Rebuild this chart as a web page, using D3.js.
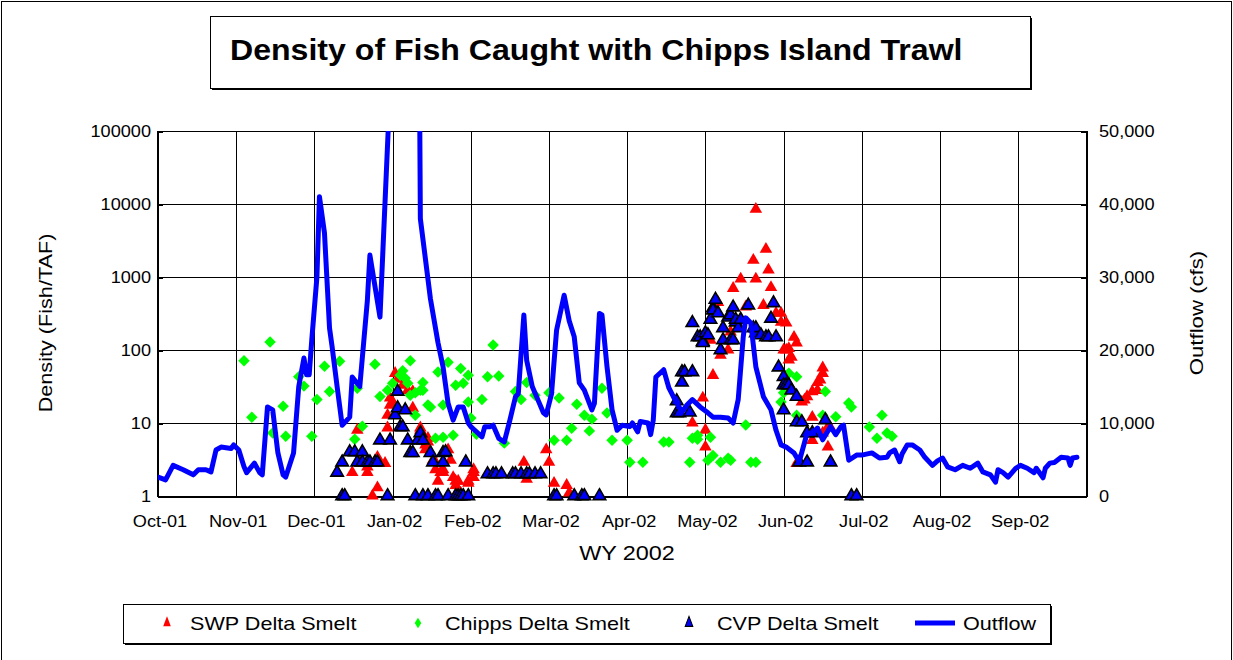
<!DOCTYPE html>
<html>
<head>
<meta charset="utf-8">
<script src="https://cdn.jsdelivr.net/npm/d3@7"></script>
<style>
  body { margin: 0; background: #fff; }
  svg { display: block; }
  text { font-family: "Liberation Sans", Arial, Helvetica, sans-serif; fill: #000; }
</style>
</head>
<body>
<svg id="chart" width="1233" height="660"></svg>
<script>
// ---- Data ---------------------------------------------------------------
const monthLabels = ["Oct-01","Nov-01","Dec-01","Jan-02","Feb-02","Mar-02","Apr-02","May-02","Jun-02","Jul-02","Aug-02","Sep-02"];
const densityTicks = [1, 10, 100, 1000, 10000, 100000];
const outflowTicks = [0, 10000, 20000, 30000, 40000, 50000];
const seriesNames = ["SWP Delta Smelt", "Chipps Delta Smelt", "CVP Delta Smelt", "Outflow"];

// SWP Delta Smelt density (fish/TAF)
const swp = [
  ["2001-12-16",2.1],["2001-12-18",8],["2001-12-19",2.8],["2001-12-22",2.1],["2001-12-22",2.5],["2001-12-24",1],
  ["2001-12-26",1.3],["2001-12-26",3.4],["2001-12-27",2.8],["2001-12-29",2.8],["2001-12-30",8.6],["2001-12-30",12.8],
  ["2001-12-31",17.6],["2001-12-31",22],["2002-01-01",19.4],["2002-01-02",48],["2002-01-03",40],["2002-01-05",33],
  ["2002-01-07",28],["2002-01-09",27],["2002-01-09",16],["2002-01-12",8.6],["2002-01-12",8],["2002-01-13",6.8],
  ["2002-01-14",4.3],["2002-01-14",5],["2002-01-15",5.5],["2002-01-15",6.2],["2002-01-16",3.9],["2002-01-17",3.1],
  ["2002-01-18",2.9],["2002-01-18",2.3],["2002-01-19",1.6],["2002-01-20",2.1],["2002-01-21",2.1],["2002-01-21",2.3],
  ["2002-01-23",4.3],["2002-01-24",3.1],["2002-01-25",1.8],["2002-01-26",1.4],["2002-01-26",1.6],["2002-01-27",1.2],
  ["2002-01-27",1.6],["2002-01-28",1.1],["2002-01-31",1.5],["2002-01-31",1.6],["2002-02-02",1.8],["2002-02-02",2.1],
  ["2002-02-02",2.3],["2002-02-20",2.9],["2002-02-21",1.7],["2002-02-28",4.3],["2002-03-01",2.9],["2002-03-03",1.5],
  ["2002-03-08",1.4],["2002-03-09",1.1],
  ["2002-04-26",10],["2002-04-30",22],["2002-05-01",4.7],["2002-05-01",8],["2002-05-03",137],["2002-05-04",45],
  ["2002-05-06",450],["2002-05-07",85],["2002-05-10",100],["2002-05-11",177],["2002-05-12",700],["2002-05-15",940],
  ["2002-05-17",390],["2002-05-20",1700],["2002-05-21",8500],["2002-05-21",940],["2002-05-24",410],["2002-05-25",2400],
  ["2002-05-26",1250],["2002-05-27",720],["2002-05-29",320],["2002-05-31",240],["2002-05-31",320],["2002-06-01",100],
  ["2002-06-02",235],["2002-06-02",100],["2002-06-03",105],["2002-06-03",73],["2002-06-04",80],["2002-06-05",150],
  ["2002-06-06",125],["2002-06-06",2.8],["2002-06-08",19.4],["2002-06-09",20.7],["2002-06-10",23],["2002-06-12",27],
  ["2002-06-12",12],["2002-06-12",5.8],["2002-06-14",28],["2002-06-14",36],["2002-06-15",39],["2002-06-16",57],
  ["2002-06-16",48],["2002-06-16",7.3],["2002-06-18",4.7],["2002-06-18",8.8],["2002-06-19",8.6]
];

// Chipps Island trawl Delta Smelt density (fish/TAF)
const chipps = [
  ["2001-11-04",71],["2001-11-07",12],["2001-11-14",129],["2001-11-15",7.3],["2001-11-19",17],["2001-11-20",6.6],
  ["2001-11-25",43],["2001-11-27",32],["2001-11-30",6.6],["2001-12-02",21],["2001-12-05",60],["2001-12-07",27],
  ["2001-12-11",70],["2001-12-17",6],["2001-12-18",30],["2001-12-20",9],["2001-12-25",64],["2001-12-27",23],
  ["2001-12-30",28],["2002-01-01",35],["2002-01-04",45],["2002-01-05",52],["2002-01-06",41],["2002-01-07",35],
  ["2002-01-08",71],["2002-01-08",24],["2002-01-10",12.8],["2002-01-10",26],["2002-01-12",28],["2002-01-13",36],
  ["2002-01-13",28],["2002-01-15",17.6],["2002-01-16",16.5],["2002-01-18",6.2],["2002-01-19",50],["2002-01-21",6.4],
  ["2002-01-21",17.6],["2002-01-23",68],["2002-01-25",6.8],["2002-01-26",33],["2002-01-28",56],["2002-01-29",35],
  ["2002-01-31",45],["2002-01-31",19.4],["2002-02-01",11.7],["2002-02-03",7],["2002-02-05",21],["2002-02-07",43],
  ["2002-02-09",117],["2002-02-11",44],["2002-02-13",5.3],["2002-02-17",27],["2002-02-19",21],["2002-02-21",36],
  ["2002-02-24",24],["2002-03-01",26],["2002-03-03",5.8],["2002-03-05",22],["2002-03-08",5.8],["2002-03-10",8.5],
  ["2002-03-12",18],["2002-03-15",12.8],["2002-03-17",7.8],["2002-03-18",11.3],["2002-03-22",30],["2002-03-24",13.7],
  ["2002-03-26",5.8],["2002-04-01",5.8],["2002-04-02",2.9],["2002-04-07",2.9],["2002-04-15",5.5],["2002-04-17",5.5],
  ["2002-04-25",2.9],["2002-04-26",6.2],["2002-04-28",6.8],["2002-04-28",6],["2002-05-02",3.1],["2002-05-03",6.4],
  ["2002-05-04",3.6],["2002-05-07",2.9],["2002-05-10",3.3],["2002-05-11",3.1],["2002-05-17",9.4],["2002-05-19",2.9],
  ["2002-05-21",2.9],["2002-05-31",19.4],["2002-06-01",26],["2002-06-02",30],["2002-06-03",48],["2002-06-06",12.8],
  ["2002-06-06",43],["2002-06-16",12.8],["2002-06-17",27],["2002-06-21",12.2],["2002-06-26",18.8],["2002-06-27",16.5],
  ["2002-07-04",8.8],["2002-07-07",6.2],["2002-07-09",12.8],["2002-07-11",7.3],["2002-07-13",6.6]
];

// CVP Delta Smelt density (fish/TAF)
const cvp = [
  ["2001-12-10",2.1],["2001-12-12",1],["2001-12-12",2.9],["2001-12-13",1],["2001-12-15",4],["2001-12-17",4],
  ["2001-12-18",2.9],["2001-12-20",4],["2001-12-20",2.9],["2001-12-22",2.9],["2001-12-23",2.9],["2001-12-25",2.9],
  ["2001-12-26",2.9],["2001-12-27",5.8],["2001-12-30",1],["2001-12-31",5.8],["2002-01-02",12.8],["2002-01-03",27],
  ["2002-01-03",16],["2002-01-04",8.8],["2002-01-05",8.8],["2002-01-06",15],["2002-01-07",5.8],["2002-01-08",3.9],
  ["2002-01-09",3.9],["2002-01-10",1],["2002-01-11",5.8],["2002-01-12",7.3],["2002-01-13",5.8],["2002-01-13",1],
  ["2002-01-15",1],["2002-01-16",3.9],["2002-01-17",2.9],["2002-01-18",1],["2002-01-19",1],["2002-01-21",3.9],
  ["2002-01-21",2.9],["2002-01-22",4],["2002-01-23",1],["2002-01-26",1],["2002-01-27",1],["2002-01-28",1],
  ["2002-01-29",1],["2002-01-30",2.9],["2002-01-31",1],
  ["2002-02-07",2],["2002-02-09",2],["2002-02-10",2],["2002-02-12",2],["2002-02-16",2],["2002-02-17",2],
  ["2002-02-19",2],["2002-02-21",2],["2002-02-22",2],["2002-02-24",2],["2002-02-26",2],
  ["2002-03-03",1],["2002-03-04",1],["2002-03-11",1],["2002-03-14",1],["2002-03-15",1],["2002-03-21",1],
  ["2002-04-20",20],["2002-04-20",13.7],["2002-04-21",13.7],["2002-04-22",36],["2002-04-22",50],["2002-04-23",50],
  ["2002-04-25",14],["2002-04-26",50],["2002-04-26",235],["2002-04-28",150],["2002-04-29",150],["2002-04-30",130],
  ["2002-04-30",125],["2002-05-01",170],["2002-05-02",160],["2002-05-03",260],["2002-05-04",375],["2002-05-04",350],
  ["2002-05-05",490],["2002-05-06",320],["2002-05-07",100],["2002-05-08",200],["2002-05-08",137],["2002-05-10",280],
  ["2002-05-11",300],["2002-05-11",137],["2002-05-12",137],["2002-05-12",385],["2002-05-13",240],["2002-05-13",260],
  ["2002-05-14",200],["2002-05-15",260],["2002-05-18",410],["2002-05-20",200],["2002-05-21",170],["2002-05-21",200],
  ["2002-05-23",160],["2002-05-25",150],["2002-05-26",150],["2002-05-27",270],["2002-05-28",440],["2002-05-29",150],
  ["2002-05-30",58],["2002-06-01",43],["2002-06-01",33],["2002-06-01",15],["2002-06-02",33],["2002-06-03",33],
  ["2002-06-04",28],["2002-06-06",23],["2002-06-06",10.3],["2002-06-07",2.9],["2002-06-08",10.3],["2002-06-10",7.3],
  ["2002-06-10",2.9],["2002-06-12",7.3],["2002-06-17",11],["2002-06-19",2.9],["2002-06-27",1],["2002-06-29",1]
];

// Delta outflow (cfs)
const outflow = [
  ["2001-10-01",2600],["2001-10-04",2200],["2001-10-07",4200],["2001-10-11",3600],["2001-10-15",2900],["2001-10-17",3600],
  ["2001-10-20",3600],["2001-10-22",3300],["2001-10-24",6300],["2001-10-26",6700],["2001-10-30",6500],["2001-10-31",7000],
  ["2001-11-02",6300],["2001-11-04",4000],["2001-11-05",3200],["2001-11-08",4500],["2001-11-10",3200],["2001-11-11",2900],
  ["2001-11-13",12200],["2001-11-15",11800],["2001-11-17",5900],["2001-11-19",2900],["2001-11-20",2600],["2001-11-23",5900],
  ["2001-11-25",15000],["2001-11-27",18900],["2001-11-28",16600],["2001-11-29",16600],["2001-11-30",21400],
  ["2001-12-02",30000],["2001-12-03",41000],["2001-12-05",36000],["2001-12-07",23000],["2001-12-08",20500],["2001-12-10",15000],
  ["2001-12-12",9700],["2001-12-15",10800],["2001-12-16",16300],["2001-12-19",15000],["2001-12-22",26800],["2001-12-23",33000],
  ["2001-12-27",24500],["2001-12-31",56000],["2002-01-03",72000],["2002-01-08",78000],["2002-01-11",95000],
  ["2002-01-12",38000],["2002-01-16",27000],["2002-01-19",21000],["2002-01-21",17700],["2002-01-23",12700],["2002-01-25",10400],
  ["2002-01-27",12200],["2002-01-29",12200],["2002-01-31",10000],
  ["2002-02-01",9500],["2002-02-03",8800],["2002-02-05",8100],["2002-02-06",9500],["2002-02-08",9500],["2002-02-09",9700],
  ["2002-02-11",7900],["2002-02-13",7400],["2002-02-15",10400],["2002-02-17",13600],["2002-02-18",14000],["2002-02-20",24800],
  ["2002-02-21",18600],["2002-02-23",15000],["2002-02-25",13200],["2002-02-27",11400],["2002-02-28",11100],
  ["2002-03-02",14000],["2002-03-04",22700],["2002-03-07",27500],["2002-03-09",24000],["2002-03-11",21800],["2002-03-13",15500],
  ["2002-03-15",14500],["2002-03-18",11800],["2002-03-19",12700],["2002-03-21",25000],["2002-03-22",24800],["2002-03-24",17700],
  ["2002-03-26",11800],["2002-03-28",9000],["2002-03-30",9700],
  ["2002-04-02",9500],["2002-04-03",10000],["2002-04-05",8800],["2002-04-06",10200],["2002-04-09",10000],["2002-04-10",8400],
  ["2002-04-11",10400],["2002-04-12",16300],["2002-04-15",17300],["2002-04-17",14800],["2002-04-19",13400],["2002-04-22",11500],
  ["2002-04-24",12500],["2002-04-26",13200],["2002-04-29",12200],
  ["2002-05-02",11400],["2002-05-04",10800],["2002-05-07",10800],["2002-05-10",10700],["2002-05-12",10000],["2002-05-14",13200],
  ["2002-05-16",21800],["2002-05-17",24400],["2002-05-19",23700],["2002-05-21",17700],["2002-05-24",13600],["2002-05-27",11800],
  ["2002-05-29",9000],["2002-05-31",7000],
  ["2002-06-02",6700],["2002-06-05",5900],["2002-06-07",4700],["2002-06-10",8600],["2002-06-12",8600],["2002-06-14",9300],
  ["2002-06-16",7700],["2002-06-19",9500],["2002-06-21",8400],["2002-06-23",9500],["2002-06-24",9700],["2002-06-26",4900],
  ["2002-06-29",5600],
  ["2002-07-01",5600],["2002-07-05",5900],["2002-07-08",5200],["2002-07-11",5300],["2002-07-12",5900],["2002-07-14",6300],
  ["2002-07-16",4700],["2002-07-17",5800],["2002-07-19",7000],["2002-07-21",7000],["2002-07-24",6300],["2002-07-26",5300],
  ["2002-07-29",4200],["2002-07-31",4800],
  ["2002-08-02",5200],["2002-08-04",4000],["2002-08-07",3600],["2002-08-10",4200],["2002-08-13",3800],["2002-08-16",4500],
  ["2002-08-18",3300],["2002-08-21",2900],["2002-08-23",1900],["2002-08-24",3600],["2002-08-26",3200],["2002-08-28",2600],
  ["2002-08-31",3800],
  ["2002-09-02",4200],["2002-09-05",3800],["2002-09-08",3200],["2002-09-09",3800],["2002-09-12",2500],["2002-09-13",3800],
  ["2002-09-15",4500],["2002-09-17",4600],["2002-09-20",5300],["2002-09-23",5200],["2002-09-24",4200],["2002-09-25",5200],
  ["2002-09-27",5300]
];

// ---- Layout -------------------------------------------------------------
const W = 1233, H = 660;
const plot = { left: 158, right: 1086, top: 131, bottom: 496 };
const FONT_TICK = 16.5, FONT_AXIS = 18.5, FONT_LEGEND = 18, FONT_TITLE = 30;

const parse = d3.timeParse("%Y-%m-%d");
const monthStarts = d3.timeMonth.range(new Date(2001, 9, 1), new Date(2002, 9, 2));   // 13 month boundaries
const monthStep = 78.2;
const x = d3.scaleTime()
  .domain(monthStarts)
  .range(monthStarts.map((d, i) => i < 12 ? plot.left + i * monthStep : plot.right));

const yDensity = d3.scaleLog().domain([1, 100000]).range([plot.bottom, plot.top]);
const yFlow = d3.scaleLinear().domain([0, 50000]).range([plot.bottom, plot.top]);

const svg = d3.select("#chart");

// helper for horizontally widened text
function wideText(g, x0, y0, str, size, opts = {}) {
  const rot = opts.rotate ? ` rotate(${opts.rotate})` : "";
  return g.append("text")
    .attr("transform", `translate(${x0},${y0})${rot} scale(${opts.sx || 1.2},1)`)
    .attr("text-anchor", opts.anchor || "start")
    .attr("font-size", size)
    .attr("font-weight", opts.bold ? "bold" : "normal")
    .text(str);
}

// outer frame
svg.append("rect").attr("x", 1.5).attr("y", 1.5).attr("width", W - 3).attr("height", H + 10)
  .attr("fill", "#fff").attr("stroke", "#000").attr("stroke-width", 1);

// ---- Title box ----------------------------------------------------------
const titleBox = { x: 210, y: 16, w: 820, h: 72 };
svg.append("rect").attr("x", titleBox.x + 2).attr("y", titleBox.y + 2).attr("width", titleBox.w).attr("height", titleBox.h).attr("fill", "#000");
svg.append("rect").attr("x", titleBox.x + 0.5).attr("y", titleBox.y + 0.5).attr("width", titleBox.w).attr("height", titleBox.h)
  .attr("fill", "#fff").attr("stroke", "#000").attr("stroke-width", 1);
wideText(svg, 230, 60, "Density of Fish Caught with Chipps Island Trawl", FONT_TITLE, { bold: true, sx: 1.07 });

// ---- Grid ---------------------------------------------------------------
const grid = svg.append("g").attr("stroke", "#000").attr("stroke-width", 1).attr("shape-rendering", "crispEdges");
grid.selectAll(".h").data(densityTicks).join("line")
  .attr("x1", plot.left).attr("x2", plot.right)
  .attr("y1", d => Math.round(yDensity(d)) + 0.5).attr("y2", d => Math.round(yDensity(d)) + 0.5);
grid.selectAll(".v").data(monthStarts).join("line")
  .attr("x1", d => Math.round(x(d)) + 0.5).attr("x2", d => Math.round(x(d)) + 0.5)
  .attr("y1", plot.top).attr("y2", plot.bottom);

// axis lines (slightly heavier)
const axesG = svg.append("g").attr("stroke", "#000").attr("stroke-width", 2).attr("shape-rendering", "crispEdges");
axesG.append("line").attr("x1", plot.left).attr("x2", plot.left).attr("y1", plot.top).attr("y2", plot.bottom + 1);
axesG.append("line").attr("x1", plot.right + 1).attr("x2", plot.right + 1).attr("y1", plot.top).attr("y2", plot.bottom + 1);
axesG.append("line").attr("x1", plot.left).attr("x2", plot.right + 1).attr("y1", plot.bottom + 1).attr("y2", plot.bottom + 1);
// inward tick marks
axesG.selectAll(".tl").data(densityTicks).join("line")
  .attr("x1", plot.left).attr("x2", plot.left + 5)
  .attr("y1", d => Math.round(yDensity(d)) + 0.5).attr("y2", d => Math.round(yDensity(d)) + 0.5);
axesG.selectAll(".tr").data(outflowTicks).join("line")
  .attr("x1", plot.right - 5).attr("x2", plot.right + 1)
  .attr("y1", d => Math.round(yFlow(d)) + 0.5).attr("y2", d => Math.round(yFlow(d)) + 0.5);

// ---- Axis labels --------------------------------------------------------
const labels = svg.append("g");
densityTicks.forEach(d => wideText(labels, 151, yDensity(d) + 6, String(d), FONT_TICK, { anchor: "end", sx: 1.1 }));
const fmt = d3.format(",");
outflowTicks.forEach(d => wideText(labels, 1099, yFlow(d) + 6, fmt(d), FONT_TICK, { sx: 1.1 }));
monthLabels.forEach((m, i) => wideText(labels, x(monthStarts[i]) + 2, 527, m, FONT_TICK, { anchor: "middle", sx: 1.1 }));
wideText(labels, 627, 560, "WY 2002", 19.5, { anchor: "middle" });
wideText(labels, 52, 323, "Density (Fish/TAF)", FONT_AXIS, { anchor: "middle", rotate: -90, sx: 1.17 });
wideText(labels, 1203, 313, "Outflow (cfs)", FONT_AXIS, { anchor: "middle", rotate: -90, sx: 1.2 });

// ---- Marks --------------------------------------------------------------
const tri = d3.symbol().type(d3.symbolTriangle).size(68)();
const dia = d3.symbol().type(d3.symbolSquare).size(66)();

const marks = svg.append("g");
marks.append("g").selectAll("path").data(swp).join("path")
  .attr("d", tri)
  .attr("transform", d => `translate(${x(parse(d[0]))},${yDensity(d[1])})`)
  .attr("fill", "#ff0000");
marks.append("g").selectAll("path").data(chipps).join("path")
  .attr("d", dia)
  .attr("transform", d => `translate(${x(parse(d[0]))},${yDensity(d[1])}) rotate(45)`)
  .attr("fill", "#00ff00");
marks.append("g").selectAll("path").data(cvp).join("path")
  .attr("d", tri)
  .attr("transform", d => `translate(${x(parse(d[0]))},${yDensity(d[1])})`)
  .attr("fill", "#0000ff").attr("stroke", "#000").attr("stroke-width", 1.6).attr("stroke-linejoin", "miter");

// outflow on the secondary axis, clipped to the plot area
svg.append("clipPath").attr("id", "plotClip").append("rect")
  .attr("x", plot.left).attr("y", plot.top).attr("width", plot.right - plot.left).attr("height", plot.bottom - plot.top);
const flowLine = d3.line().x(d => x(parse(d[0]))).y(d => yFlow(d[1]));
svg.append("path").datum(outflow)
  .attr("clip-path", "url(#plotClip)")
  .attr("d", flowLine)
  .attr("fill", "none").attr("stroke", "#0000ff").attr("stroke-width", 5)
  .attr("stroke-linejoin", "round").attr("stroke-linecap", "round");

// ---- Legend -------------------------------------------------------------
const lg = { x: 123, y: 604, w: 927, h: 39 };
svg.append("rect").attr("x", lg.x + 2).attr("y", lg.y + 2).attr("width", lg.w).attr("height", lg.h).attr("fill", "#000");
svg.append("rect").attr("x", lg.x + 0.5).attr("y", lg.y + 0.5).attr("width", lg.w).attr("height", lg.h)
  .attr("fill", "#fff").attr("stroke", "#000").attr("stroke-width", 1);
const ly = lg.y + 19;
const legendItems = [
  { name: seriesNames[0], mx: 167, tx: 190 },
  { name: seriesNames[1], mx: 418, tx: 445 },
  { name: seriesNames[2], mx: 689, tx: 717 },
  { name: seriesNames[3], mx: 935, tx: 963 }
];
const legendG = svg.append("g");
legendG.append("path").attr("d", d3.symbol().type(d3.symbolTriangle).size(44)())
  .attr("transform", `translate(${legendItems[0].mx},${ly}) scale(0.75,1.15)`).attr("fill", "#ff0000");
legendG.append("path").attr("d", d3.symbol().type(d3.symbolSquare).size(44)())
  .attr("transform", `translate(${legendItems[1].mx},${ly}) scale(0.7,1.1) rotate(45)`).attr("fill", "#00ff00");
legendG.append("path").attr("d", d3.symbol().type(d3.symbolTriangle).size(44)())
  .attr("transform", `translate(${legendItems[2].mx},${ly}) scale(0.75,1.15)`).attr("fill", "#0000ff")
  .attr("stroke", "#000").attr("stroke-width", 1.2);
legendG.append("line").attr("x1", 915).attr("x2", 955).attr("y1", ly).attr("y2", ly)
  .attr("stroke", "#0000ff").attr("stroke-width", 5);
legendItems.forEach(it => wideText(legendG, it.tx, ly + 6.5, it.name, FONT_LEGEND, { sx: 1.2 }));
</script>
</body>
</html>
